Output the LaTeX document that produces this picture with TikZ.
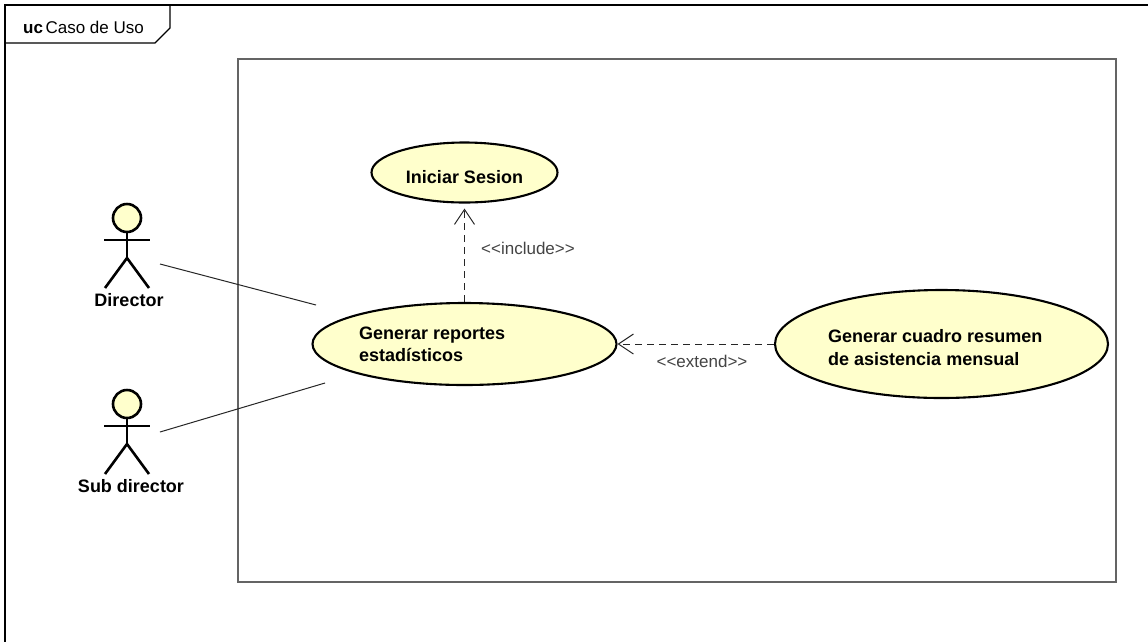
\documentclass[tikz,border=0pt]{standalone}
\usepackage{fontspec}
\setmainfont{Liberation Sans}
\usetikzlibrary{shapes.geometric,arrows.meta}
\definecolor{ucfill}{RGB}{255,255,204}
\definecolor{boxgray}{RGB}{100,100,100}
\definecolor{labelgray}{RGB}{68,68,68}
\tikzset{
  usecase/.style={ellipse, draw=black, line width=2.1pt, fill=ucfill, inner sep=0pt},
  uctext/.style={inner sep=0pt, align=left, font=\fontsize{18}{21.6}\selectfont\bfseries},
  actorname/.style={inner sep=0pt, anchor=north, font=\fontsize{18}{21.6}\selectfont\bfseries},
  stereo/.style={inner sep=0pt, text=labelgray, font=\fontsize{17}{20}\selectfont},
  assoc/.style={draw=black!85, line width=1pt},
  depline/.style={draw=black!85, line width=1pt, dash pattern=on 7pt off 5pt,
    -{Straight Barb[length=15pt,width=20pt,line width=1pt]}},
  actorline/.style={draw=black, line width=2.6pt},
  pics/actorfig/.style={code={
    \draw[actorline, fill=ucfill] (0,0) circle (14pt);
    \draw[actorline] (0,14) -- (0,40);
    \draw[actorline] (-23,22) -- (23,22);
    \draw[actorline] (-22,70) -- (0,40) -- (22,70);
  }}
}
\begin{document}
\begin{tikzpicture}[x=1pt, y=-1pt]
  \useasboundingbox (0,0) rectangle (1148,641);
  \clip (0,0) rectangle (1148,641);
  \fill[white] (0,0) rectangle (1148,641);

  % diagram frame with its name tab
  \draw[black, line width=1.6pt] (5,700) -- (5,5) -- (1200,5);
  \draw[black, line width=1.4pt] (5,43) -- (155,43) -- (170,28) -- (170,5);
  \node[inner sep=0pt, anchor=base west, font=\fontsize{17}{20}\selectfont] (title) at (23,33)
    {\textbf{uc}\hspace{2.5pt}Caso de Uso};

  % system boundary
  \draw[boxgray, line width=1.5pt] (238,59) rectangle (1116,582);

  % use cases
  \node[usecase, minimum width=186pt, minimum height=60pt] (sesion) at (464.5,172.5) {};
  \node[uctext, anchor=base] (sesiontxt) at (464.5,183) {Iniciar Sesion};

  \node[usecase, minimum width=304pt, minimum height=82pt] (reportes) at (464.5,344) {};
  \node[uctext, anchor=north west] (reportestxt) at (359,327) {Generar reportes\\estadísticos};

  \node[usecase, minimum width=333pt, minimum height=108pt] (cuadro) at (941.5,344) {};
  \node[uctext, anchor=north west] (cuadrotxt) at (828,329) {Generar cuadro resumen\\[1.5pt]de asistencia mensual};

  % actors
  \pic at (127,218) {actorfig};
  \node[actorname] (director) at (129,293) {Director};
  \pic at (127,404) {actorfig};
  \node[actorname] (subdirector) at (131,479) {Sub director};

  % associations
  \coordinate (dirA) at (160,264);
  \coordinate (dirB) at (316,305);
  \coordinate (subA) at (160,432);
  \coordinate (subB) at (325,383);
  \draw[assoc] (dirA) -- (dirB);
  \draw[assoc] (subA) -- (subB);

  % include and extend dependencies
  \draw[depline, shorten >=5pt] (reportes.north) -- (sesion.south);
  \node[stereo, anchor=west] (inclbl) at (481,248) {{<}{<}include{>}{>}};

  \draw[depline] (cuadro.west) -- (reportes.east);
  \node[stereo] (extlbl) at (702,361) {{<}{<}extend{>}{>}};
\end{tikzpicture}
\end{document}
